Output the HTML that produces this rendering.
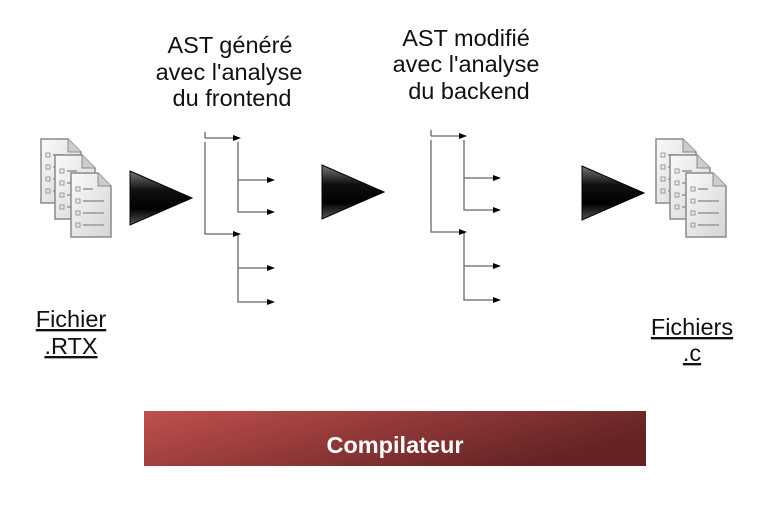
<!DOCTYPE html>
<html><head><meta charset="utf-8"><style>
html,body{margin:0;padding:0;background:#fff}
svg{display:block}
text{font-family:"Liberation Sans",sans-serif}
</style></head><body>
<svg width="778" height="510" viewBox="0 0 778 510" xmlns="http://www.w3.org/2000/svg">
<defs>
<linearGradient id="pg" x1="0" y1="0" x2="1" y2="1"><stop offset="0" stop-color="#fafafa"/><stop offset="1" stop-color="#d4d4d4"/></linearGradient>
<linearGradient id="tri" x1="0" y1="0" x2="0" y2="1"><stop offset="0" stop-color="#777"/><stop offset="0.35" stop-color="#111"/><stop offset="0.7" stop-color="#000"/><stop offset="1" stop-color="#555"/></linearGradient>
<linearGradient id="bar" x1="0" y1="0" x2="1" y2="0.4"><stop offset="0" stop-color="#c0504d"/><stop offset="1" stop-color="#652325"/></linearGradient>
<g id="page">
<path d="M0,0 H27 L40,13 V64 H0 Z" fill="url(#pg)" stroke="#8a8a8a" stroke-width="1.5"/>
<path d="M27,0 V13 H40" fill="#ccc" stroke="#8a8a8a" stroke-width="1"/>
<g fill="none" stroke="#999" stroke-width="1"><rect x="5" y="14" width="4" height="4"/><rect x="5" y="26" width="4" height="4"/><rect x="5" y="38" width="4" height="4"/><rect x="5" y="50" width="4" height="4"/></g>
<g stroke="#aaa" stroke-width="2"><line x1="12" y1="16" x2="22" y2="16"/><line x1="12" y1="28" x2="33" y2="28"/><line x1="12" y1="40" x2="33" y2="40"/><line x1="12" y1="52" x2="33" y2="52"/></g>
</g>
<g id="docs"><use href="#page" x="0" y="0"/><use href="#page" x="14" y="16"/><use href="#page" x="30" y="34"/></g>
<g id="tree" stroke="#666" stroke-width="1.3" fill="none">
<path d="M0,0 V-6 M0,0 H30 M0,4 V96 H30 M33,4 V74 H64 M33,42 H64 M33,96 V164 H64 M33,130 H64"/>
<g fill="#000" stroke="none"><path d="M28,-3 L36,0 L28,3Z"/><path d="M62,39 L70,42 L62,45Z"/><path d="M62,71 L70,74 L62,77Z"/><path d="M28,93 L36,96 L28,99Z"/><path d="M62,127 L70,130 L62,133Z"/><path d="M62,161 L70,164 L62,167Z"/></g>
</g>
<path id="arr" d="M0,0 L62,27 L0,54 Z" fill="url(#tri)" stroke="#000" stroke-width="1"/>
</defs>
<use href="#docs" x="41" y="139"/>
<use href="#docs" x="656" y="139"/>
<use href="#tree" x="205" y="138"/>
<use href="#tree" x="431" y="136"/>
<use href="#arr" x="130" y="171"/>
<use href="#arr" x="322" y="165"/>
<use href="#arr" x="582" y="166"/>
<g font-size="23.5" fill="#111" text-anchor="middle">
<text x="230" y="53">AST généré</text>
<text x="229" y="80">avec l'analyse</text>
<text x="232" y="106">du frontend</text>
<text x="466" y="46">AST modifié</text>
<text x="466" y="72">avec l'analyse</text>
<text x="469" y="99">du backend</text>
<text x="71" y="327" text-decoration="underline">Fichier</text>
<text x="71" y="354" text-decoration="underline">.RTX</text>
<text x="692" y="335" text-decoration="underline">Fichiers</text>
<text x="692" y="361" text-decoration="underline">.c</text>
</g>
<rect x="144" y="411" width="502" height="55" fill="url(#bar)"/>
<text x="395" y="453" font-size="23.5" font-weight="bold" fill="#fff" text-anchor="middle">Compilateur</text>
</svg>
</body></html>
